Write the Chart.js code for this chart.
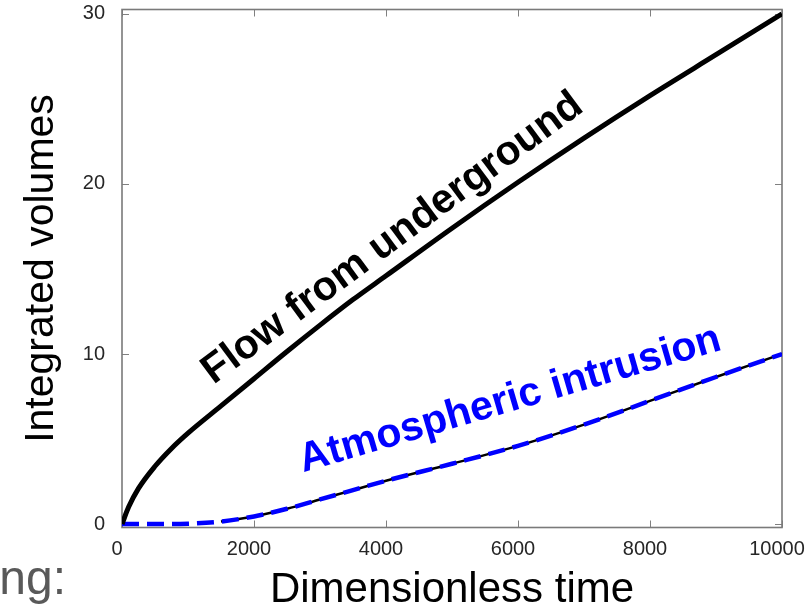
<!DOCTYPE html>
<html>
<head>
<meta charset="utf-8">
<script src="https://cdn.jsdelivr.net/npm/chart.js@4.4.1/dist/chart.umd.min.js"></script>
<style>
  html, body { margin: 0; padding: 0; background: #ffffff; }
  #wrap { position: relative; width: 806px; height: 611px; overflow: hidden; }
  #c { position: absolute; left: 0; top: 0; }
  #note { position: absolute; right: 740px; top: 554px; font-family: 'Liberation Sans', Arial, sans-serif;
          font-size: 48px; color: #595959; line-height: 48px; white-space: nowrap; }
</style>
</head>
<body>
<div id="wrap">
  <canvas id="c" width="806" height="611"></canvas>
  <div id="note">ng:</div>
</div>
<script>
// ---- data ----
const timeValues = [0, 100, 250, 500, 750, 1000, 1500, 2000, 2500, 3000, 3500, 4000, 5000, 6000, 7000, 8000, 9000, 10000];
const flowFromUnderground = [0, 1.0, 2.1, 3.4, 4.45, 5.35, 6.95, 8.55, 10.15, 11.7, 13.2, 14.6, 17.4, 20.1, 22.7, 25.2, 27.6, 30.0];
const atmosphericIntrusion = [0, 0, 0, 0, 0, 0.02, 0.15, 0.45, 0.9, 1.45, 2.0, 2.55, 3.55, 4.6, 5.85, 7.25, 8.65, 10.0];
const atmosphericTrace = [null, null, null, null, null, null, 0.15, 0.45, 0.9, 1.45, 2.0, 2.55, 3.55, 4.6, 5.85, 7.25, 8.65, 10.0];
const xTickValues = [0, 2000, 4000, 6000, 8000, 10000];
const yTickValues = [0, 10, 20, 30];
const seriesNames = ['Flow from underground', 'Atmospheric intrusion'];
const xAxisTitle = 'Dimensionless time';
const yAxisTitle = 'Integrated volumes';

// ---- presentation ----
const FONT = "'Liberation Sans', Arial, Helvetica, sans-serif";
const toPoints = (ys) => timeValues.map((t, i) => ({ x: t, y: ys[i] }));

const labelStyle = [
  { text: seriesNames[0], at: { x: 4100, y: 16.8 }, angle: -36.5, color: '#000000' },
  { text: seriesNames[1], at: { x: 5880, y: 7.3 }, angle: -16.3, color: '#0000ff' }
];

function zeroPadding(scale) {
  scale.paddingTop = 0; scale.paddingBottom = 0;
  scale.paddingLeft = 0; scale.paddingRight = 0;
}

const framePlugin = {
  id: 'frame',
  beforeDatasetsDraw(chart) {
    const { ctx, chartArea: a, scales: { x, y } } = chart;
    ctx.save();
    ctx.strokeStyle = '#808080';
    ctx.lineWidth = 1;
    const tl = 7;
    xTickValues.forEach(v => {
      const px = Math.round(x.getPixelForValue(v)) + 0.5;
      ctx.beginPath();
      ctx.moveTo(px, a.bottom); ctx.lineTo(px, a.bottom - tl);
      ctx.moveTo(px, a.top); ctx.lineTo(px, a.top + tl);
      ctx.stroke();
    });
    yTickValues.forEach(v => {
      const py = Math.round(y.getPixelForValue(v)) + 0.5;
      ctx.beginPath();
      ctx.moveTo(a.left, py); ctx.lineTo(a.left + tl, py);
      ctx.moveTo(a.right, py); ctx.lineTo(a.right - tl, py);
      ctx.stroke();
    });
    ctx.lineWidth = 1.6;
    ctx.strokeStyle = '#7a7a7a';
    ctx.strokeRect(a.left, a.top, a.right - a.left, a.bottom - a.top);
    ctx.restore();
  },
  afterDatasetsDraw(chart) {
    const { ctx, scales: { x, y } } = chart;
    labelStyle.forEach(l => {
      ctx.save();
      ctx.translate(x.getPixelForValue(l.at.x), y.getPixelForValue(l.at.y));
      ctx.rotate(l.angle * Math.PI / 180);
      ctx.font = 'bold 41px ' + FONT;
      ctx.fillStyle = l.color;
      ctx.textAlign = 'center';
      ctx.textBaseline = 'middle';
      ctx.fillText(l.text, 0, 0);
      ctx.restore();
    });
  }
};

new Chart(document.getElementById('c'), {
  type: 'line',
  data: {
    datasets: [
      {
        label: seriesNames[0],
        data: toPoints(flowFromUnderground),
        borderColor: '#000000',
        borderWidth: 5,
        pointRadius: 0,
        cubicInterpolationMode: 'monotone',
        fill: false,
        order: 1
      },
      {
        label: seriesNames[1],
        data: toPoints(atmosphericIntrusion),
        borderColor: '#0000ff',
        borderWidth: 4.5,
        borderDash: [17, 8],
        borderCapStyle: 'butt',
        pointRadius: 0,
        cubicInterpolationMode: 'monotone',
        fill: false,
        order: 2
      },
      {
        label: seriesNames[1] + ' trace',
        data: toPoints(atmosphericTrace),
        borderColor: '#000000',
        borderWidth: 2.5,
        pointRadius: 0,
        spanGaps: false,
        cubicInterpolationMode: 'monotone',
        fill: false,
        order: 3
      }
    ]
  },
  options: {
    responsive: false,
    animation: false,
    devicePixelRatio: 1,
    layout: { autoPadding: false, padding: { left: 0, right: 24, top: 9.5, bottom: 0 } },
    plugins: { legend: { display: false }, tooltip: { enabled: false } },
    scales: {
      x: {
        type: 'linear',
        min: 0,
        max: 10000,
        afterFit(scale) { scale.height = 83.5; zeroPadding(scale); },
        afterBuildTicks(scale) { scale.ticks = xTickValues.map(v => ({ value: v })); },
        grid: { display: false, drawTicks: false },
        border: { display: false },
        ticks: {
          padding: 10,
          labelOffset: -5,
          maxRotation: 0,
          autoSkip: false,
          color: '#262626',
          font: { family: FONT, size: 20 },
          callback: (v) => String(v)
        },
        title: {
          display: true,
          text: xAxisTitle,
          color: '#000000',
          font: { family: FONT, size: 42, lineHeight: 1 },
          padding: { top: 0, bottom: 0 }
        }
      },
      y: {
        type: 'linear',
        min: -0.2,
        max: 30.26,
        afterFit(scale) { scale.width = 122; zeroPadding(scale); },
        afterBuildTicks(scale) { scale.ticks = yTickValues.map(v => ({ value: v })); },
        grid: { display: false, drawTicks: false },
        border: { display: false },
        ticks: {
          padding: 17,
          color: '#262626',
          font: { family: FONT, size: 20 },
          callback: (v) => String(v)
        },
        title: {
          display: true,
          text: yAxisTitle,
          color: '#000000',
          font: { family: FONT, size: 41, lineHeight: 1 },
          padding: { top: 21, bottom: 0 }
        }
      }
    }
  },
  plugins: [framePlugin]
});
</script>
</body>
</html>
